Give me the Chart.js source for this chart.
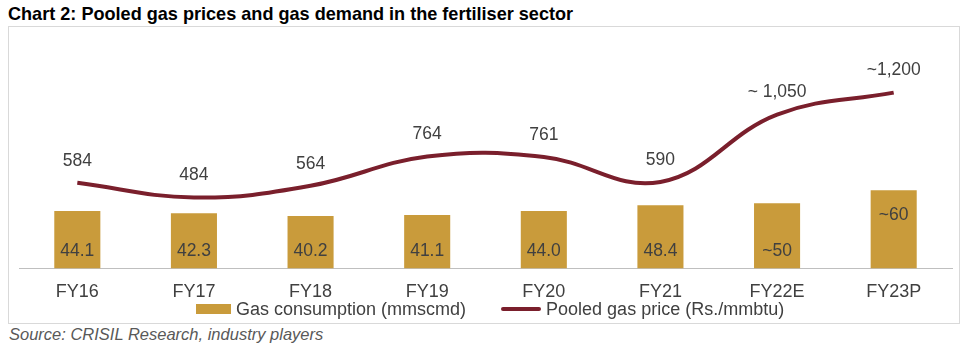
<!DOCTYPE html>
<html>
<head>
<meta charset="utf-8">
<script src="https://cdn.jsdelivr.net/npm/chart.js@4.4.4/dist/chart.umd.min.js"></script>
<style>
    body { margin: 0; background: #fff; font-family: "Liberation Sans", Arial, sans-serif; }
    #title { position: absolute; left: 8px; top: 4px; font-size: 18.1px; font-weight: bold; color: #000; white-space: nowrap; }
    #box { position: absolute; left: 8px; top: 26px; width: 952px; height: 298px; box-sizing: border-box; border: 1px solid #d9d9d9; }
    #chart { position: absolute; left: 0; top: 0; }
    #legend { position: absolute; left: 187px; top: 273px; height: 18px; display: flex; align-items: center; font-size: 18px; color: #404040; white-space: nowrap; }
    .item { display: flex; align-items: center; margin-right: 35px; }
    .swatch { margin-right: 5px; }
    #source { position: absolute; left: 9px; top: 325px; font-size: 16.5px; font-style: italic; color: #595959; white-space: nowrap; }
</style>
</head>
<body>
<div id="title">Chart 2: Pooled gas prices and gas demand in the fertiliser sector</div>
<div id="box">
    <canvas id="chart" width="948" height="289"></canvas>
    <div id="legend"></div>
</div>
<div id="source">Source: CRISIL Research, industry players</div>
<script>
// Chart data
const years = ['FY16', 'FY17', 'FY18', 'FY19', 'FY20', 'FY21', 'FY22E', 'FY23P'];
const gasConsumption = [44.1, 42.3, 40.2, 41.1, 44.0, 48.4, 50, 60];
const gasConsumptionLabels = ['44.1', '42.3', '40.2', '41.1', '44.0', '48.4', '~50', '~60'];
const pooledPrice = [584, 484, 564, 764, 761, 590, 1050, 1200];
const pooledPriceLabels = ['584', '484', '564', '764', '761', '590', '~ 1,050', '~1,200'];

const GOLD = '#C99B3B';
const MAROON = '#7A1F2C';
const TEXT = '#404040';
const FONT = '"Liberation Sans", Arial, sans-serif';

// Draws value labels: above the line points, inside the bars
const valueLabels = {
    id: 'valueLabels',
    afterDatasetsDraw(chart) {
        const ctx = chart.ctx;
        ctx.save();
        ctx.font = '17.5px ' + FONT;
        ctx.fillStyle = TEXT;
        ctx.textAlign = 'center';
        ctx.textBaseline = 'middle';

        const bars = chart.getDatasetMeta(0).data;
        bars.forEach((bar, i) => {
            // last bar has its label near the top, the rest near the base
            const y = i === bars.length - 1 ? bar.y + 25 : bar.base - 17;
            ctx.fillText(gasConsumptionLabels[i], bar.x, y);
        });

        chart.getDatasetMeta(1).data.forEach((pt, i) => {
            ctx.fillText(pooledPriceLabels[i], pt.x, pt.y - 22);
        });
        ctx.restore();
    }
};

const chart = new Chart(document.getElementById('chart'), {
    type: 'bar',
    data: {
        labels: years,
        datasets: [
            {
                label: 'Gas consumption (mmscmd)',
                data: gasConsumption,
                backgroundColor: GOLD,
                barPercentage: 0.395,
                categoryPercentage: 1,
                yAxisID: 'y',
                order: 2
            },
            {
                label: 'Pooled gas price (Rs./mmbtu)',
                data: pooledPrice,
                type: 'line',
                borderColor: MAROON,
                borderWidth: 4,
                tension: 0.4,
                pointRadius: 0,
                fill: false,
                yAxisID: 'y1',
                order: 1
            }
        ]
    },
    options: {
        responsive: false,
        animation: false,
        layout: { padding: { left: 10, right: 5, top: 7, bottom: 0 } },
        plugins: {
            legend: { display: false },
            tooltip: { enabled: false }
        },
        scales: {
            x: {
                grid: { display: false, drawTicks: false },
                border: { display: true, color: '#bfbfbf', width: 1 },
                ticks: { color: TEXT, padding: 13, font: { size: 18, family: FONT } }
            },
            y: { display: false, min: 0, max: 180 },
            y1: { display: false, min: 0, max: 1600 }
        }
    },
    plugins: [valueLabels]
});

// HTML legend built from the datasets
const legend = document.getElementById('legend');
chart.data.datasets.forEach(ds => {
    const item = document.createElement('div');
    item.className = 'item';
    const sw = document.createElement('span');
    sw.className = 'swatch';
    if (ds.type === 'line') {
        sw.style.cssText = `width:40px;height:4px;border-radius:2px;background:${ds.borderColor}`;
    } else {
        sw.style.cssText = `width:35px;height:10px;background:${ds.backgroundColor}`;
    }
    const txt = document.createElement('span');
    txt.textContent = ds.label;
    item.appendChild(sw);
    item.appendChild(txt);
    legend.appendChild(item);
});
</script>
</body>
</html>
